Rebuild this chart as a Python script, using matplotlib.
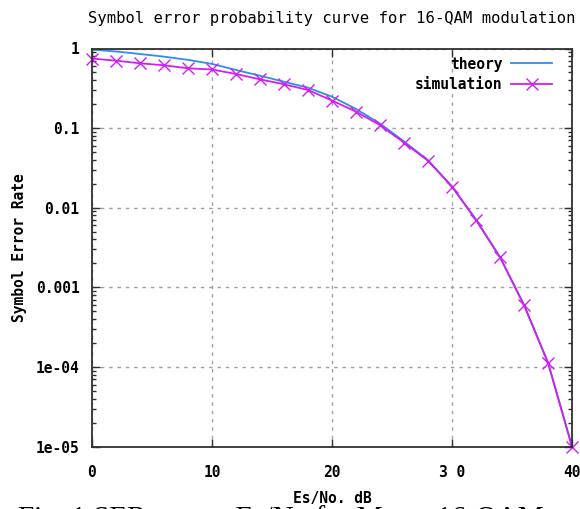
import matplotlib
matplotlib.use("Agg")
import matplotlib.pyplot as plt
from matplotlib.ticker import FixedLocator, LogLocator, NullFormatter

# Es/No in dB
snr_db = [0, 2, 4, 6, 8, 10, 12, 14, 16, 18, 20, 22, 24, 26, 28, 30, 32, 34, 36, 38, 40]

# theoretical symbol error rate
ser_theory = [0.97, 0.917, 0.853, 0.79, 0.72, 0.64, 0.537, 0.455, 0.382, 0.322, 0.248,
              0.174, 0.114, 0.068, 0.0395, 0.0185, 0.0071, 0.0024, 0.0006, 0.000113, 1e-5]

# simulated symbol error rate
ser_sim = [0.748, 0.703, 0.652, 0.615, 0.564, 0.545, 0.478, 0.410, 0.355, 0.301, 0.222,
           0.161, 0.109, 0.0656, 0.0389, 0.0184, 0.0070, 0.00238, 0.0006, 0.000113, 1e-5]

xticks = [0, 10, 20, 30, 40]
xtick_labels = ["0", "10", "20", "3 0", "40"]
yticks = [1e-5, 1e-4, 1e-3, 1e-2, 1e-1, 1]
ytick_labels = ["1e-05", "1e-04", "0.001", "0.01", "0.1", "1"]

mono = "DejaVu Sans Mono"

fig = plt.figure(figsize=(5.8, 5.09), dpi=100, facecolor="white")
ax = fig.add_axes([92 / 580, 1 - 446.5 / 509, 480 / 580, 398 / 509])

ax.plot(snr_db, ser_theory, color="#2a8ff0", lw=1.3, label="theory")
ax.plot(snr_db, ser_sim, color="#d21ef0", lw=1.3, marker="x", markersize=9,
        markeredgewidth=1.0, label="simulation", clip_on=False)

ax.set_yscale("log")
ax.set_xlim(0, 40)
ax.set_ylim(1e-5, 1)

ax.xaxis.set_major_locator(FixedLocator(xticks))
ax.set_xticklabels(xtick_labels)
ax.yaxis.set_major_locator(FixedLocator(yticks))
ax.set_yticklabels(ytick_labels)
ax.yaxis.set_minor_locator(LogLocator(base=10, subs=range(2, 10)))
ax.yaxis.set_minor_formatter(NullFormatter())

ax.tick_params(which="both", direction="in", top=True, right=True, color="#303030")
ax.tick_params(which="major", length=6, width=1)
ax.tick_params(axis="y", which="major", pad=9)
ax.tick_params(axis="x", which="major", pad=13)
ax.tick_params(which="minor", length=3, width=1)
for lab in ax.get_xticklabels() + ax.get_yticklabels():
    lab.set_fontfamily(mono)
    lab.set_fontweight("bold")
    lab.set_fontsize(10.5)

ax.grid(True, which="major", color="#a0a0a0", linestyle=(0, (2.5, 3.5)), lw=1)
for s in ax.spines.values():
    s.set_color("#303030")
    s.set_linewidth(1.3)

ax.set_title("Symbol error probability curve for 16-QAM modulation",
             family=mono, fontsize=11.2, pad=18)
ax.set_xlabel("Es/No. dB", family=mono, fontweight="bold", fontsize=10.5, labelpad=8)
ax.set_ylabel("Symbol Error Rate", family=mono, fontweight="bold", fontsize=10.5, labelpad=6)

leg = ax.legend(loc="upper right", bbox_to_anchor=(1 - 12 / 480, 1), frameon=False,
                markerfirst=False,
                prop={"family": mono, "weight": "bold", "size": 10.5},
                handlelength=2.8, borderaxespad=0.15, labelspacing=0.35,
                handletextpad=0.6)
for t in leg.get_texts():
    t.set_ha("right")
leg._legend_box.align = "right"

# clipped figure caption under the plot
fig.text(18 / 580, 1 - 505 / 509, "Fig. 1 SER versus Es/No for M-ary 16-QAM",
         family="Liberation Serif", fontsize=21, va="top", ha="left")

fig.savefig("out.png", dpi=100)
